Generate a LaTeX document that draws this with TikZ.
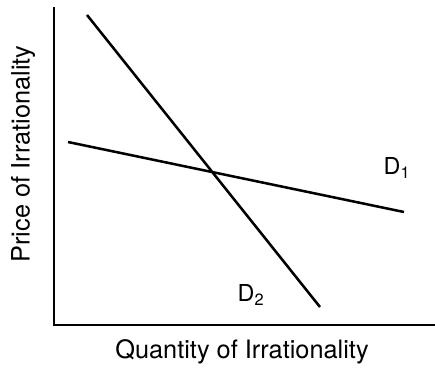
\documentclass[tikz,border=0pt]{standalone}
\usepackage{fontspec}
\setmainfont{TeX Gyre Heros}
\usetikzlibrary{positioning}

\begin{document}
\begin{tikzpicture}[x=0.75pt, y=-0.75pt,
      axis/.style={line width=2pt},
      curve/.style={line width=1.9pt},
      lbl/.style={font=\fontsize{17.5}{20}\selectfont, inner sep=0pt},
      title/.style={font=\fontsize{19}{22}\selectfont, inner sep=0pt}
    ]
      \useasboundingbox (0,0) rectangle (435,369);
      \coordinate (top)    at (54,7);
      \coordinate (origin) at (54,325);
      \coordinate (right)  at (435,325);
      \coordinate (d1a) at (68,142);
      \coordinate (d1b) at (404,212);
      \coordinate (d2a) at (87,15);
      \coordinate (d2b) at (320,307);
      \draw[axis] (top)--(origin)--(right);
      \draw[curve] (d1a)--(d1b);
      \draw[curve] (d2a)--(d2b);
      \node[lbl] (dA) at (397,168) {D\textsubscript{1}};
      \node[lbl] (dB) at (251,295) {D\textsubscript{2}};
      \node[title] (xlab) at (242,352) {Quantity of Irrationality};
      \node[title, rotate=90] (ylab) at (23,154) {Price of Irrationality};
    \end{tikzpicture}
\end{document}
